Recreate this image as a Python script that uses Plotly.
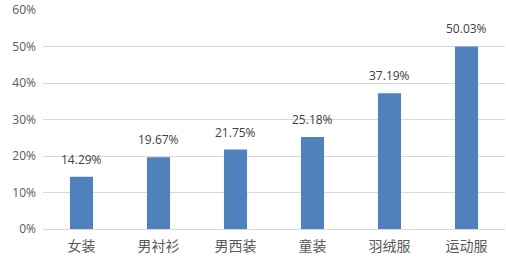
import plotly.graph_objects as go

categories = ["女装", "男衬衫", "男西装", "童装", "羽绒服", "运动服"]
values = [14.29, 19.67, 21.75, 25.18, 37.19, 50.03]
tick_vals = [0, 10, 20, 30, 40, 50, 60]
tick_text = ["0%", "10%", "20%", "30%", "40%", "50%", "60%"]

fig = go.Figure(go.Bar(
    x=categories, y=values,
    marker=dict(color="#4F81BD", line=dict(width=0)),
))
for c, v in zip(categories, values):
    fig.add_annotation(x=c, y=v, text=f"{v:.2f}%", showarrow=False,
                       yanchor="bottom", yshift=7,
                       font=dict(size=12, color="#404040"))
fig.update_layout(
    width=506, height=259,
    margin=dict(l=43, r=1, t=10, b=30),
    paper_bgcolor="white", plot_bgcolor="white",
    bargap=0.7,
    showlegend=False,
    font=dict(family="Open Sans, Noto Sans CJK SC", size=12, color="#595959"),
    xaxis=dict(showline=True, linecolor="#D9D9D9", ticks="", ticklabelstandoff=4,
               tickfont=dict(size=14, color="#595959", family="Noto Sans CJK SC")),
    yaxis=dict(range=[0, 60], tickvals=tick_vals, ticktext=tick_text, showgrid=True,
               gridcolor="#D9D9D9", zeroline=False, ticks="", ticklabelstandoff=6,
               tickfont=dict(size=12, color="#595959")),
)
fig.write_html("out.html")
